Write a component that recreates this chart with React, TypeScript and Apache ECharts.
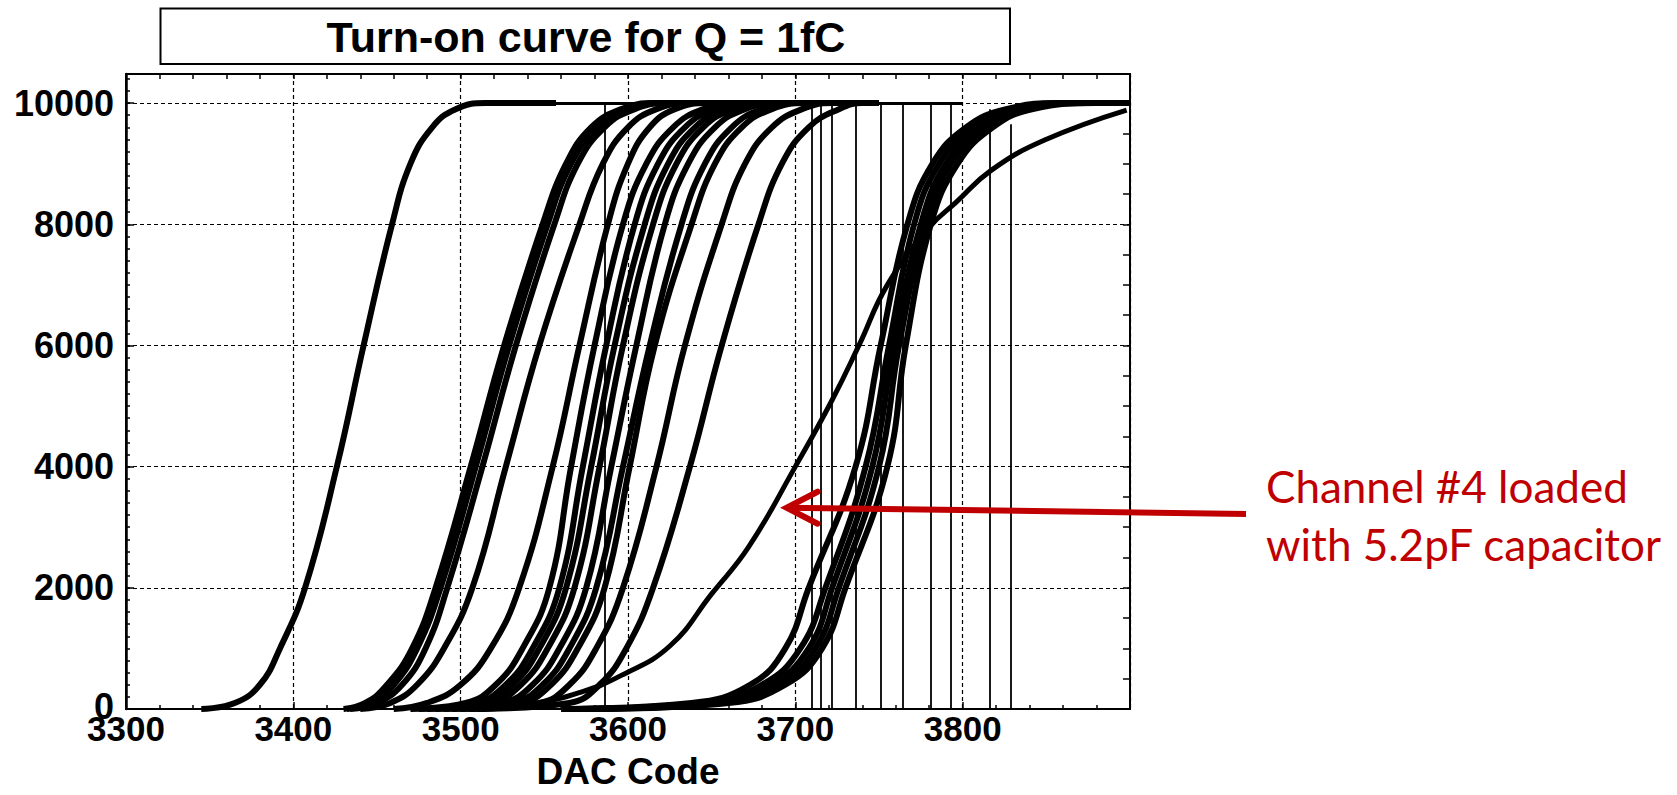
import React, { useEffect, useRef } from "react";
import * as echarts from "echarts";

const FONT = '"Liberation Sans", Arial, Helvetica, sans-serif';
const RED = "#C00000";

// Axis ranges and tick steps
const xRange = [3300, 3900];
const yRange = [0, 10480];
const xMajorStep = 100;
const yMajorStep = 2000;

const levels = [0, 100, 400, 1000, 2000, 4000, 6000, 8000, 9000, 9600, 9900, 10000, 10000];

// DAC code of each channel at the hit-count levels above
const ch01 = [3345, 3365, 3380, 3392, 3407, 3426, 3442, 3459, 3470, 3483, 3497, 3515, 3557];
const ch02 = [3430, 3443, 3456, 3471, 3485, 3506, 3526, 3549, 3563, 3578, 3596, 3616, 3640];
const ch03 = [3432, 3446, 3460, 3474, 3488, 3509, 3529, 3552, 3566, 3582, 3600, 3620, 3650];
const ch05 = [3434, 3450, 3465, 3479, 3492, 3513, 3533, 3556, 3570, 3586, 3604, 3624, 3660];
const ch06 = [3440, 3458, 3474, 3490, 3507, 3527, 3547, 3571, 3585, 3600, 3617, 3637, 3670];
const ch07 = [3460, 3480, 3500, 3518, 3535, 3555, 3571, 3588, 3600, 3613, 3628, 3648, 3680];
const ch08 = [3470, 3503, 3521, 3537, 3553, 3566, 3580, 3597, 3611, 3627, 3645, 3665, 3690];
const ch09 = [3475, 3509, 3527, 3543, 3559, 3573, 3587, 3604, 3618, 3634, 3652, 3672, 3700];
const ch10 = [3480, 3513, 3531, 3547, 3563, 3578, 3592, 3610, 3624, 3640, 3658, 3678, 3705];
const ch11 = [3485, 3518, 3536, 3552, 3568, 3583, 3597, 3615, 3629, 3645, 3663, 3683, 3710];
const ch12 = [3490, 3525, 3543, 3559, 3575, 3590, 3605, 3622, 3636, 3652, 3670, 3690, 3715];
const ch13 = [3495, 3531, 3549, 3565, 3581, 3597, 3613, 3632, 3646, 3662, 3680, 3700, 3722];
const ch14 = [3500, 3536, 3554, 3570, 3586, 3601, 3616, 3638, 3652, 3668, 3686, 3706, 3730];
const ch15 = [3505, 3547, 3565, 3581, 3597, 3617, 3634, 3656, 3670, 3686, 3704, 3722, 3740];
const ch16 = [3510, 3565, 3583, 3599, 3615, 3637, 3656, 3678, 3692, 3708, 3726, 3740, 3750];
const ch17 = [3560, 3638, 3673, 3694, 3708, 3736, 3751, 3767, 3782, 3802, 3826, 3860, 3900];
const ch18 = [3565, 3645, 3680, 3703, 3718, 3742, 3756, 3771, 3786, 3806, 3830, 3865, 3900];
const ch19 = [3570, 3650, 3685, 3708, 3722, 3746, 3759, 3775, 3790, 3810, 3834, 3870, 3900];
const ch20 = [3575, 3655, 3690, 3712, 3726, 3750, 3762, 3778, 3793, 3814, 3838, 3875, 3900];
const ch21 = [3580, 3660, 3694, 3716, 3730, 3755, 3766, 3781, 3797, 3818, 3842, 3880, 3900];

const channels = [ch01, ch02, ch03, ch05, ch06, ch07, ch08, ch09, ch10, ch11, ch12, ch13, ch14, ch15, ch16, ch17, ch18, ch19, ch20, ch21];

// Channel #4 (5.2 pF load): [DAC code, hits]
const ch04 = [
  [3500, 0], [3545, 100], [3572, 280], [3596, 555], [3625, 1040], [3650, 1900],
  [3672, 2670], [3700, 4000], [3722, 5100], [3738, 6000], [3755, 7000], [3780, 7950],
  [3796, 8360], [3817, 8890], [3849, 9390], [3898, 9885],
];

// End-of-scan returns: DAC code and the hit count they drop from
const dropCodes = [3586, 3710, 3715, 3722, 3736, 3751, 3764, 3781, 3793, 3816, 3829];
const dropTops = [10000, 10000, 10000, 10000, 10000, 10000, 10000, 10000, 10000, 9900, 9650];

// Thin connecting traces along the floor and the ceiling: [from, to, hits]
const connectors = [
  [3300, 3430, 0],
  [3586, 3746, 0],
  [3557, 3800, 10000],
];

// Point on channel #4 the note refers to
const noteTarget = [3693, 3322];

const axisLineStyle = { color: "#000", width: 2 };
const tickStyle = { color: "#000", width: 1.5 };

function buildOption() {
  const curveSeries = channels.map((codes, i) => ({
    type: "line",
    name: "ch" + i,
    data: codes.map((c, k) => [c, levels[k]]),
    smooth: 0.45,
    showSymbol: false,
    clip: false,
    lineStyle: { color: "#000", width: 6 },
    z: 3,
  }));

  const ch4Series = {
    type: "line",
    name: "ch4",
    data: ch04,
    smooth: 0.45,
    showSymbol: false,
    clip: false,
    lineStyle: { color: "#000", width: 5 },
    z: 3,
  };

  const dropSeries = {
    type: "lines",
    coordinateSystem: "cartesian2d",
    data: dropCodes.map((c, i) => ({ coords: [[c, dropTops[i]], [c, 0]] })),
    lineStyle: { color: "#000", width: 1.8, opacity: 1 },
    z: 2,
  };

  const connectorSeries = {
    type: "lines",
    coordinateSystem: "cartesian2d",
    data: connectors.map(([a, b, h]) => ({
      coords: [[a, h], [b, h]],
      lineStyle: { width: a === 3300 ? 1.5 : 3 },
    })),
    lineStyle: { color: "#000", width: 2, opacity: 1 },
    z: 2,
  };

  const labelBase = { color: "#000", fontFamily: FONT, fontWeight: "bold" };

  return {
    animation: false,
    backgroundColor: "#fff",
    grid: {
      left: 126,
      right: 547,
      top: 74,
      bottom: 82.5,
      show: true,
      borderColor: "#000",
      borderWidth: 2,
    },
    xAxis: [
      {
        type: "value",
        position: "bottom",
        min: xRange[0],
        max: xRange[1],
        interval: xMajorStep,
        name: "DAC Code",
        nameLocation: "middle",
        nameGap: 44,
        nameTextStyle: { ...labelBase, fontSize: 37 },
        axisLine: { show: true, onZero: false, lineStyle: axisLineStyle },
        axisTick: { show: true, inside: true, length: 7, lineStyle: tickStyle },
        minorTick: { show: true, splitNumber: 5, length: 4, lineStyle: tickStyle },
        axisLabel: {
          ...labelBase,
          fontSize: 35,
          margin: 2,
          showMaxLabel: false,
          formatter: (v: number) => String(v),
        },
        splitLine: { show: true, lineStyle: { color: "#000", width: 1.2, type: [4, 3] } },
      },
      {
        type: "value",
        position: "top",
        min: xRange[0],
        max: xRange[1],
        interval: 20,
        axisLine: { show: true, onZero: false, lineStyle: axisLineStyle },
        axisTick: { show: true, inside: true, length: 5, lineStyle: tickStyle },
        axisLabel: { show: false },
        splitLine: { show: false },
      },
    ],
    yAxis: [
      {
        type: "value",
        position: "left",
        min: yRange[0],
        max: yRange[1],
        interval: yMajorStep,
        axisLine: { show: true, onZero: false, lineStyle: { color: "#000", width: 2.5 } },
        axisTick: { show: true, inside: true, length: 8, lineStyle: tickStyle },
        axisLabel: {
          ...labelBase,
          fontSize: 36,
          margin: 12,
          showMaxLabel: false,
          formatter: (v: number) => (v === 0 ? "{z|0}" : String(v)),
          rich: { z: { ...labelBase, fontSize: 36, padding: [0, 0, 6, 0] } },
        },
        splitLine: { show: true, lineStyle: { color: "#000", width: 1.2, type: [4, 3] } },
      },
      {
        type: "value",
        position: "right",
        min: yRange[0],
        max: yRange[1],
        interval: 500,
        axisLine: { show: true, onZero: false, lineStyle: axisLineStyle },
        axisTick: { show: true, inside: true, length: 7, lineStyle: tickStyle },
        axisLabel: { show: false },
        splitLine: { show: false },
      },
      {
        type: "value",
        position: "left",
        min: yRange[0],
        max: yRange[1],
        interval: 200,
        axisLine: { show: false },
        axisTick: { show: true, inside: true, length: 4, lineStyle: tickStyle },
        axisLabel: { show: false },
        splitLine: { show: false },
      },
    ],
    series: [...curveSeries, ch4Series, dropSeries, connectorSeries],
  };
}

function buildGraphic(tip: number[]) {
  const tailX = 1246;
  const tailY = 514;
  return [
    {
      type: "rect",
      shape: { x: 160.5, y: 8.5, width: 849.5, height: 55.5 },
      style: { fill: "#fff", stroke: "#000", lineWidth: 2 },
      z: 10,
    },
    {
      type: "text",
      x: 586,
      y: 37,
      style: {
        text: "Turn-on curve for Q = 1fC",
        fontFamily: FONT,
        fontWeight: "bold",
        fontSize: 43,
        fill: "#000",
        align: "center",
        verticalAlign: "middle",
      },
      z: 11,
    },
    {
      type: "line",
      shape: { x1: tailX, y1: tailY, x2: tip[0] + 4, y2: tip[1] },
      style: { stroke: RED, lineWidth: 6 },
      z: 12,
    },
    {
      type: "polyline",
      shape: {
        points: [
          [tip[0] + 34, tip[1] - 16],
          [tip[0] + 3, tip[1]],
          [tip[0] + 34, tip[1] + 16],
        ],
      },
      style: { stroke: RED, lineWidth: 6, fill: "none", lineJoin: "miter", lineCap: "round" },
      z: 12,
    },
    {
      type: "text",
      x: 1266,
      y: 486,
      style: {
        text: "Channel #4 loaded",
        fontFamily: "Lato, 'Open Sans', sans-serif",
        fontSize: 44,
        fill: RED,
        align: "left",
        verticalAlign: "middle",
      },
      z: 12,
    },
    {
      type: "text",
      x: 1266,
      y: 544,
      style: {
        text: "with 5.2pF capacitor",
        fontFamily: "Lato, 'Open Sans', sans-serif",
        fontSize: 44,
        fill: RED,
        align: "left",
        verticalAlign: "middle",
      },
      z: 12,
    },
  ];
}

export default function App() {
  const ref = useRef<HTMLDivElement>(null);

  useEffect(() => {
    const el = ref.current;
    if (!el) return;
    const chart = echarts.init(el, undefined, { renderer: "svg" });
    chart.setOption(buildOption() as any);
    const tip = chart.convertToPixel({ gridIndex: 0 }, noteTarget) as number[];
    chart.setOption({ graphic: buildGraphic(tip) } as any);
    return () => chart.dispose();
  }, []);

  return (
    <div
      ref={ref}
      style={{ position: "fixed", left: 0, top: 0, width: 1677, height: 795, background: "#fff" }}
    />
  );
}
